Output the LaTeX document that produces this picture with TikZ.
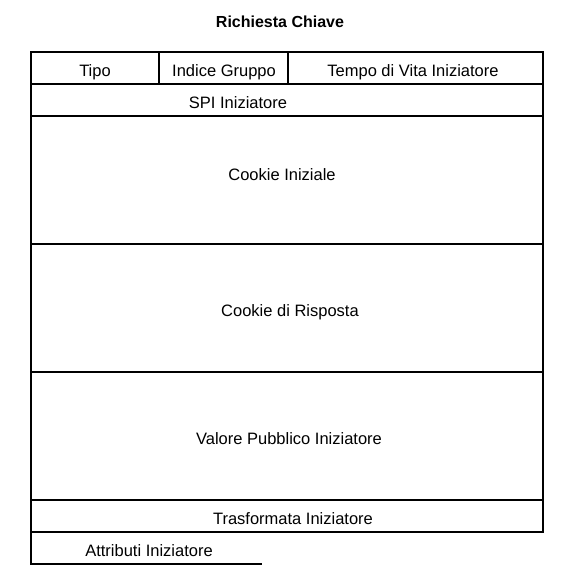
\documentclass[tikz,border=0pt]{standalone}
\usepackage{fontspec}
\setmainfont{Liberation Sans}
\usepackage{tikz}
\usetikzlibrary{positioning}

\tikzset{
  campo/.style={inner sep=0pt,text height=12pt,text depth=3pt,font=\fontsize{16.5}{19}\selectfont},
  titolo/.style={inner sep=0pt,text height=12pt,text depth=3pt,font=\fontsize{16}{19}\selectfont\bfseries},
  bordo/.style={line width=1.6pt}
}

\begin{document}
\begin{tikzpicture}[x=1pt,y=-1pt]
   \useasboundingbox (0,0) rectangle (573,578);
   \node[titolo] (t_0) at (280,23) {Richiesta Chiave};
   % righe e colonne
   \draw[bordo] (31,52) rectangle (543,532);
   \draw[bordo] (31,84) -- (543,84);
   \draw[bordo] (31,116) -- (543,116);
   \draw[bordo] (31,244) -- (543,244);
   \draw[bordo] (31,372) -- (543,372);
   \draw[bordo] (31,500) -- (543,500);
   \draw[bordo] (159,52) -- (159,84);
   \draw[bordo] (288,52) -- (288,84);
   \draw[bordo] (31,531) -- (31,564) -- (262,564);
   % campi
   \node[campo] (c_0) at (95,72) {Tipo};
   \node[campo] (c_1) at (224,72) {Indice Gruppo};
   \node[campo] (c_2) at (413,72) {Tempo di Vita Iniziatore};
   \node[campo] (c_3) at (238,104) {SPI Iniziatore};
   \node[campo] (c_4) at (282,176) {Cookie Iniziale};
   \node[campo] (c_5) at (290,312) {Cookie di Risposta};
   \node[campo] (c_6) at (289,440) {Valore Pubblico Iniziatore};
   \node[campo] (c_7) at (293,520) {Trasformata Iniziatore};
   \node[campo] (c_8) at (149,552) {Attributi Iniziatore};
\end{tikzpicture}
\end{document}
